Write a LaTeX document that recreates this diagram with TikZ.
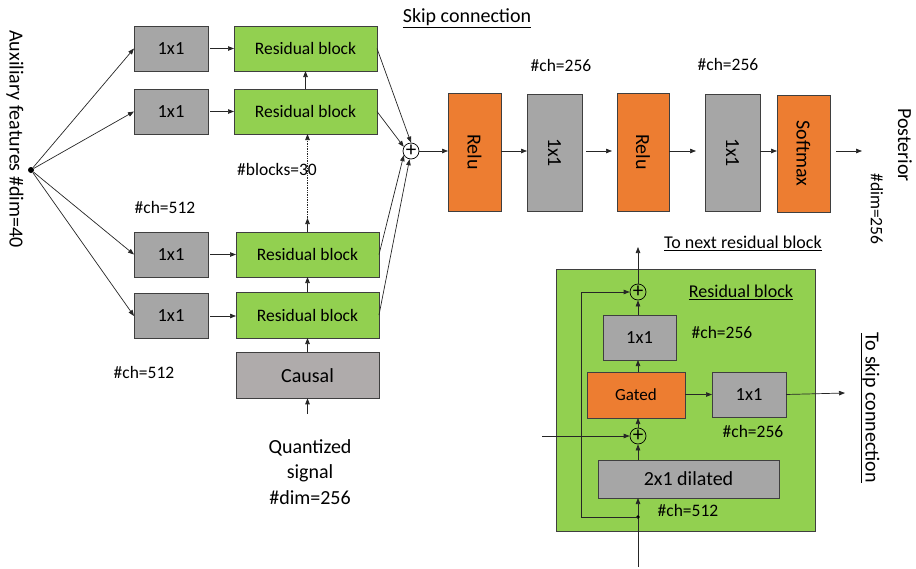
\documentclass[tikz,border=0pt]{standalone}
\usepackage{fontspec}
\setmainfont{Carlito}
\usetikzlibrary{arrows.meta,calc}
\definecolor{resgreen}{HTML}{92D050}
\definecolor{actorange}{HTML}{ED7D31}
\definecolor{convgray}{HTML}{A6A6A6}
\definecolor{causalgray}{HTML}{AFABAB}
\definecolor{edgecol}{HTML}{3F3F3F}
\begin{document}
\begin{tikzpicture}[x=1pt,y=-1pt,
  box/.style={draw=edgecol, line width=0.9pt, outer sep=0pt, inner sep=0pt, align=center},
  conv/.style={box, fill=convgray},
  res/.style={box, fill=resgreen},
  act/.style={box, fill=actorange},
  causalbox/.style={box, fill=causalgray},
  sumnode/.style={circle, draw=black, line width=0.7pt, minimum size=16pt, inner sep=0pt, font=\fontsize{21}{21}\selectfont},
  arr/.style={-{Triangle[length=6pt,width=4.5pt]}, line width=0.7pt, draw=black!85},
  fA/.style={font=\fontsize{18.5}{22}\selectfont},
  fB/.style={font=\fontsize{17.5}{21}\selectfont},
  fC/.style={font=\fontsize{20}{24}\selectfont},
  lbl/.style={fB, inner sep=0pt},
  vlbl/.style={rotate=-90, inner sep=0pt}
]
\useasboundingbox (0,0) rectangle (916,568);

% ---- input 1x1 convolutions for the auxiliary features
\node[conv, fA, minimum width=74pt, minimum height=45pt] (c1) at (171,48.5) {1x1};
\node[conv, fA, minimum width=74pt, minimum height=45pt] (c2) at (171,111.5) {1x1};
\node[conv, fA, minimum width=74pt, minimum height=45pt] (c3) at (171,254.5) {1x1};
\node[conv, fA, minimum width=74pt, minimum height=45pt] (c4) at (171,316) {1x1};

% ---- stack of residual blocks
\node[res, fB, minimum width=143pt, minimum height=45pt] (r1) at (305.5,48.5) {Residual block};
\node[res, fB, minimum width=143pt, minimum height=45pt] (r2) at (305.5,111.5) {Residual block};
\node[res, fB, minimum width=143pt, minimum height=45pt] (r3) at (307.5,254.5) {Residual block};
\node[res, fB, minimum width=143pt, minimum height=46pt] (r4) at (307.5,315) {Residual block};
\node[causalbox, fC, minimum width=143pt, minimum height=46pt] (causal) at (307.5,375.3) {Causal};

% ---- auxiliary feature source
\node[circle, fill=black, inner sep=0pt, minimum size=6pt] (aux) at (31,170) {};
\node[vlbl, fC] (auxtext) at (15,139) {Auxiliary features \#dim=40};

\foreach \c in {c1,c2,c3,c4} \draw[arr] (aux) -- (\c.west);
\draw[arr] (c1.east) ++(2,0) coordinate (c1o) -- (c1o -| r1.west);
\draw[arr] (c2.east) ++(2,0) coordinate (c2o) -- (c2o -| r2.west);
\draw[arr] (c3.east) ++(2,0) coordinate (c3o) -- (c3o -| r3.west);
\draw[arr] (c4.east) ++(2,0) coordinate (c4o) -- (c4o -| r4.west);

% ---- vertical flow through the stack
\coordinate (qin) at (307.5,414);
\coordinate (midstack) at (307.5,218);
\draw[arr] (qin) -- (causal.south);
\draw[arr] (causal.north) -- (r4.south);
\draw[arr] (r4.north) -- (r3.south);
\draw[arr] (r3.north) -- (midstack);
\draw[arr, densely dotted] (midstack) -- (midstack |- r2.south);
\draw[arr] (r2.north) -- (r1.south);

\node[lbl] (ch512a) at (165,207) {\#ch=512};
\node[lbl] (ch512b) at (144,372) {\#ch=512};
\node[lbl] (nblocks) at (277,169) {\#blocks=30};
\node[fC, align=center, inner sep=0pt, font=\fontsize{20}{25.5}\selectfont] (qtext) at (310,472) {Quantized\\signal\\\#dim=256};

% ---- skip connections summed
\node[sumnode] (sum) at (411,151) {+};
\draw[arr] (r1.east) -- (sum.north);
\draw[arr] (r2.east) -- (sum.150);
\draw[arr] (r3.east) -- (sum.-150);
\draw[arr] (r4.east) -- (sum.-100);
\node[fC, inner sep=0pt] (skiptitle) at (467,18) {\underline{Skip connection}};

% ---- output head
\node[act, minimum width=53pt, minimum height=118pt] (relu1) at (474.5,152) {};
\node[vlbl, fC] (relu1t) at (relu1) {Relu};
\node[conv, minimum width=55pt, minimum height=117pt] (one1) at (554.5,152.5) {};
\node[vlbl, fC] (one1t) at (one1) {1x1};
\node[act, minimum width=52pt, minimum height=118pt] (relu2) at (643,152) {};
\node[vlbl, fC] (relu2t) at (relu2) {Relu};
\node[conv, minimum width=55pt, minimum height=117pt] (one2) at (732.5,152.5) {};
\node[vlbl, fC] (one2t) at (one2) {1x1};
\node[act, minimum width=53pt, minimum height=117pt] (soft) at (803.5,153.5) {};
\node[vlbl, fC] (softt) at (soft) {Softmax};

\coordinate (post) at (862,151);
\draw[arr] (sum.east) -- (sum.east -| relu1.west);
\draw[arr] (relu1.east |- sum) -- (one1.west |- sum);
\draw[arr, shorten <=4pt, shorten >=5pt] (one1.east |- sum) -- (relu2.west |- sum);
\draw[arr, shorten >=9pt] (relu2.east |- sum) -- (one2.west |- sum);
\draw[arr] (one2.east |- sum) -- (soft.west |- sum);
\draw[arr, shorten <=6pt] (soft.east |- post) -- (post);

\node[lbl] (ch256a) at (561,65) {\#ch=256};
\node[lbl] (ch256b) at (728,64) {\#ch=256};
\node[vlbl, fC] (posttext) at (905,145) {Posterior};
\node[vlbl, fB] (postdim) at (877,209) {\#dim=256};

% ---- detail of one residual block
\node[res, minimum width=259pt, minimum height=262pt] (rbig) at (685.5,400) {};
\node[fB, inner sep=0pt, font=\fontsize{18}{21}\selectfont] (rbtitle) at (741,292) {\underline{Residual block}};
\node[fB, inner sep=0pt, font=\fontsize{18}{21}\selectfont] (nexttext) at (743,243) {\underline{To next residual block}};
\node[vlbl, fC] (skiptext) at (870,408) {\underline{To skip connection}};

\node[sumnode] (topsum) at (638,292) {+};
\node[conv, fA, minimum width=73pt, minimum height=45pt] (ione) at (639.5,337.5) {1x1};
\node[act, font=\fontsize{17}{20}\selectfont, minimum width=98pt, minimum height=46pt] (gated) at (636,395) {Gated};
\node[conv, fA, minimum width=74pt, minimum height=45pt] (ione2) at (749,394.5) {1x1};
\node[sumnode] (botsum) at (638,436) {+};
\node[conv, fC, minimum width=181pt, minimum height=38pt] (dil) at (688.5,479) {2x1 dilated};

\node[lbl] (ich256a) at (722,332) {\#ch=256};
\node[lbl] (ich256b) at (753,431) {\#ch=256};
\node[lbl] (ich512) at (688,510) {\#ch=512};

\coordinate (inbot) at (638,567);
\coordinate (split) at (638,517);
\coordinate (bypass) at (581,517);
\coordinate (leftin) at (542,436);
\coordinate (nextout) at (638,247);
\coordinate (skipout) at (845,393);

\draw[arr] (inbot) -- (botsum |- dil.south);
\fill[black] (split) circle (1.8pt);
\draw[arr] (split) -- (bypass) |- (topsum.west);
\draw[arr] (botsum |- dil.north) -- (botsum.south);
\draw[arr] (leftin) -- (botsum.west);
\draw[arr] (botsum.north) -- (botsum |- gated.south);
\draw[arr] (botsum |- gated.north) -- (botsum |- ione.south);
\draw[arr] (topsum |- ione.north) -- (topsum.south);
\draw[arr] (topsum.north) -- (nextout);
\draw[arr] (gated.east |- ione2) -- (ione2.west);
\draw[arr] (ione2.east) -- (skipout);
\end{tikzpicture}
\end{document}
